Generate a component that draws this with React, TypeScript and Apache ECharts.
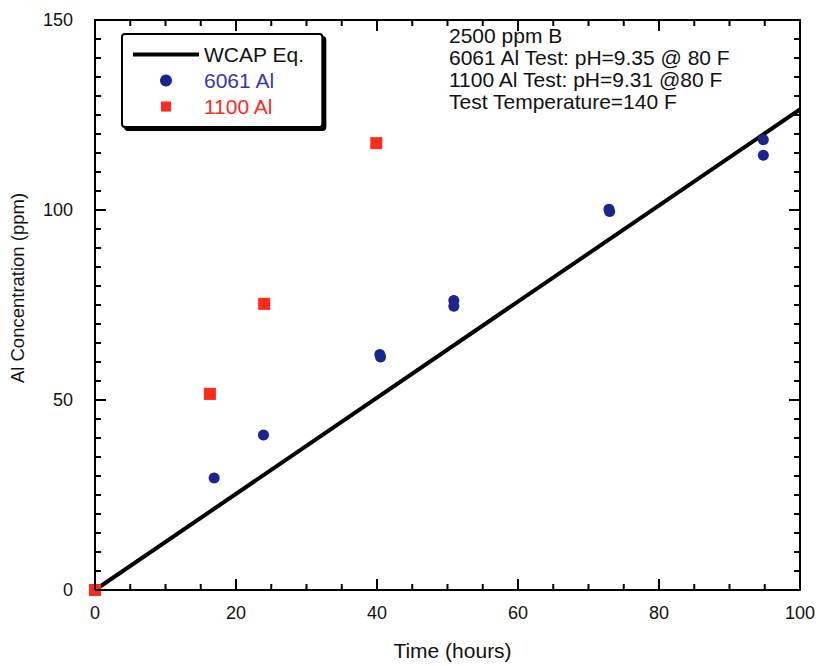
import React, { useEffect, useRef } from "react";
import * as echarts from "echarts";

const wcapX = [0, 100];
const wcapY = [0, 126.5];

const al6061X = [16.9, 23.9, 40.4, 40.5, 50.9, 50.9, 72.9, 73.0, 94.8, 94.8];
const al6061Y = [29.5, 40.8, 62.0, 61.3, 76.2, 74.7, 100.2, 99.6, 118.5, 114.4];

const al1100X = [0, 16.3, 24.0, 39.9];
const al1100Y = [0, 51.6, 75.3, 117.6];

const xTicks = [0, 20, 40, 60, 80, 100];
const yTicks = [0, 50, 100, 150];
const xMinorStep = 5;
const yMinorStep = 5;

const noteLines = [
  "2500 ppm B",
  "6061 Al Test: pH=9.35 @ 80 F",
  "1100 Al Test: pH=9.31 @80 F",
  "Test Temperature=140 F",
];

const FONT = "Liberation Sans, Arial, sans-serif";

const GRID = { left: 95, right: 19, top: 20, bottom: 76 };
const W = 819;
const H = 666;

export default function App() {
  const ref = useRef<HTMLDivElement>(null);
  useEffect(() => {
    if (!ref.current) return;
    const chart = echarts.init(ref.current, undefined, { renderer: "svg" });
    const pair = (xs: number[], ys: number[]) => xs.map((x, i) => [x, ys[i]]);
    const xMin = xTicks[0];
    const xMax = xTicks[xTicks.length - 1];
    const yMin = yTicks[0];
    const yMax = yTicks[yTicks.length - 1];
    const xMajor = xTicks[1] - xTicks[0];
    const yMajor = yTicks[1] - yTicks[0];

    const line = { show: true, onZero: false, lineStyle: { color: "#000", width: 2 } };
    const hidden = {
      axisTick: { show: false },
      minorTick: { show: false },
      axisLabel: { show: false },
      splitLine: { show: false },
    };
    const noteText = {
      type: "text",
      id: "note",
      left: 449,
      top: 24,
      style: {
        text: noteLines.join("\n"),
        font: `21px ${FONT}`,
        lineHeight: 22,
        fill: "#111",
      },
    };
    chart.setOption({
      animation: false,
      backgroundColor: "#fff",
      grid: { ...GRID, containLabel: false },
      xAxis: [
        {
          type: "value",
          min: xMin,
          max: xMax,
          interval: xMajor,
          position: "bottom",
          name: "Time (hours)",
          nameLocation: "middle",
          nameGap: 50,
          nameTextStyle: { fontFamily: FONT, fontSize: 21, color: "#111", padding: [0, 0, 0, 10] },
          axisLine: line,
          axisTick: { show: false },
          minorTick: { show: false },
          splitLine: { show: false },
          axisLabel: { show: true, fontFamily: FONT, fontSize: 18, color: "#111", margin: 14 },
        },
        { type: "value", min: xMin, max: xMax, interval: xMajor, position: "top", axisLine: line, ...hidden },
      ],
      yAxis: [
        {
          type: "value",
          min: yMin,
          max: yMax,
          interval: yMajor,
          position: "left",
          name: "Al Concentration (ppm)",
          nameLocation: "middle",
          nameGap: 68,
          nameTextStyle: { fontFamily: FONT, fontSize: 18.5, color: "#111", padding: [0, 0, 0, 34] },
          axisLine: line,
          axisTick: { show: false },
          minorTick: { show: false },
          splitLine: { show: false },
          axisLabel: { show: true, fontFamily: FONT, fontSize: 18, color: "#111", margin: 22 },
        },
        { type: "value", min: yMin, max: yMax, interval: yMajor, position: "right", axisLine: line, ...hidden },
      ],
      legend: {
        orient: "vertical",
        left: 122,
        top: 34,
        padding: [10, 18, 10, 11],
        itemWidth: 66,
        itemHeight: 12,
        itemGap: 5,
        borderColor: "#000",
        borderWidth: 2,
        borderRadius: 3,
        backgroundColor: "#fff",
        shadowColor: "#000",
        shadowOffsetX: 3,
        shadowOffsetY: 3,
        shadowBlur: 0,
        textStyle: { fontFamily: FONT, fontSize: 21, lineHeight: 20 },
        data: [
          {
            name: "WCAP Eq.",
            icon: "path://M0,0L0,0M0,4H66V8H0ZM66,12L66,12",
            itemStyle: { color: "#000", borderWidth: 0 },
            textStyle: { color: "#111" },
          },
          { name: "6061 Al", icon: "circle", textStyle: { color: "#3438b0" } },
          {
            name: "1100 Al",
            icon: "path://M0,0L0,0M28,1H38V11H28ZM66,12L66,12",
            itemStyle: { color: "#ff2a1a", borderWidth: 0 },
            textStyle: { color: "#ff2a20" },
          },
        ],
      },
      graphic: [noteText],
      series: [
        {
          name: "WCAP Eq.",
          type: "line",
          data: pair(wcapX, wcapY),
          symbol: "none",
          lineStyle: { color: "#000", width: 4 },
          itemStyle: { color: "#000" },
          z: 2,
        },
        {
          name: "6061 Al",
          type: "scatter",
          data: pair(al6061X, al6061Y),
          symbol: "circle",
          symbolSize: 11,
          itemStyle: { color: "#1b2590", opacity: 1 },
          z: 3,
        },
        {
          name: "1100 Al",
          type: "scatter",
          data: pair(al1100X, al1100Y),
          symbol: "rect",
          symbolSize: 12,
          itemStyle: { color: "#ff2a1a", opacity: 1 },
          z: 4,
        },
      ],
    });

    // inward frame ticks as thin filled rectangles, placed through the chart's own axis scales
    const tickRects: any[] = [];
    const fill = { fill: "#000" };
    const px = (x: number, y: number) => chart.convertToPixel({ gridIndex: 0 }, [x, y]) as number[];
    let n = 0;
    for (let v = xMin; v <= xMax; v += xMinorStep) {
      const len = v % xMajor === 0 ? 11 : 6;
      const b = px(v, yMin);
      const t = px(v, yMax);
      tickRects.push({ type: "rect", id: "tk" + n++, silent: true, z: 100, shape: { x: b[0] - 1, y: b[1] - len, width: 2, height: len }, style: fill });
      tickRects.push({ type: "rect", id: "tk" + n++, silent: true, z: 100, shape: { x: t[0] - 1, y: t[1], width: 2, height: len }, style: fill });
    }
    for (let v = yMin; v <= yMax; v += yMinorStep) {
      const len = v % yMajor === 0 ? 11 : 6;
      const l = px(xMin, v);
      const r = px(xMax, v);
      tickRects.push({ type: "rect", id: "tk" + n++, silent: true, z: 100, shape: { x: l[0], y: l[1] - 1, width: len, height: 2 }, style: fill });
      tickRects.push({ type: "rect", id: "tk" + n++, silent: true, z: 100, shape: { x: r[0] - len, y: r[1] - 1, width: len, height: 2 }, style: fill });
    }
    chart.setOption({ graphic: [noteText, ...tickRects] });

    return () => chart.dispose();
  }, []);
  return <div ref={ref} style={{ width: W, height: H, position: "absolute", left: 0, top: 0 }} />;
}
